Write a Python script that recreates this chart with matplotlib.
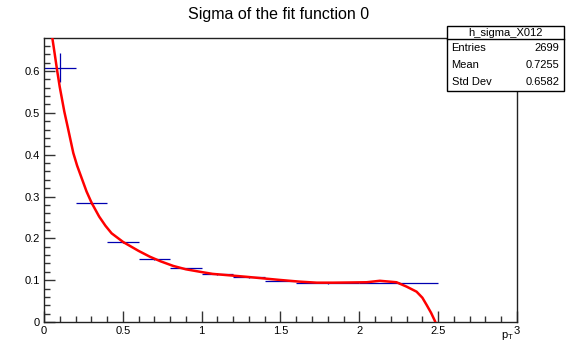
"""
Sigma of the fit function 0 -- ROOT style histogram with fit curve.
"""

import numpy as np
import matplotlib.pyplot as plt
from matplotlib.ticker import MultipleLocator

plt.rcParams["font.family"] = ["Liberation Sans", "DejaVu Sans"]

# histogram bins (variable width) and contents
bin_edges = [0.0, 0.2, 0.4, 0.6, 0.8, 1.0, 1.2, 1.4, 1.6, 2.0, 2.5]
bin_values = [0.608, 0.285, 0.191, 0.151, 0.128, 0.115, 0.108, 0.099, 0.094, 0.0925]
bin_errors = [0.034, 0.004, 0.003, 0.002, 0.002, 0.002, 0.002, 0.002, 0.002, 0.002]

# fit curve
fit_x = [0.053, 0.07, 0.084, 0.10, 0.129, 0.15, 0.186, 0.21, 0.239, 0.27,
         0.302, 0.35, 0.39, 0.429, 0.503, 0.60, 0.672, 0.74, 0.82, 0.90,
         0.99, 1.07, 1.285, 1.497, 1.62, 1.73, 1.835, 1.95, 2.046, 2.13,
         2.236, 2.30, 2.363, 2.40, 2.427, 2.455, 2.48]
fit_y = [0.679, 0.636, 0.600, 0.562, 0.503, 0.467, 0.404, 0.374, 0.344, 0.312,
         0.285, 0.252, 0.230, 0.212, 0.191, 0.170, 0.156, 0.145, 0.134, 0.126,
         0.120, 0.115, 0.108, 0.1005, 0.0965, 0.094, 0.094, 0.0945, 0.095, 0.0985,
         0.095, 0.0845, 0.0725, 0.058, 0.0407, 0.022, 0.002]

stats_name = "h_sigma_X012"
stats_rows = [("Entries", "2699"), ("Mean", "0.7255"), ("Std Dev", "0.6582")]

fig = plt.figure(figsize=(5.66, 3.46), dpi=100)
ax = fig.add_axes([0.0777, 0.0694, 0.8357, 0.8208])

edges = np.array(bin_edges)
centers = 0.5 * (edges[:-1] + edges[1:])
halfw = 0.5 * (edges[1:] - edges[:-1])
ax.errorbar(centers, bin_values, xerr=halfw, yerr=bin_errors, fmt="none",
            ecolor="#0000b0", elinewidth=0.9, capsize=0, zorder=2)
ax.plot(fit_x, fit_y, color="#ff0000", lw=1.8, zorder=3)

ax.set_xlim(0, 3)
ax.set_ylim(0, 0.679)
ax.xaxis.set_major_locator(MultipleLocator(0.5))
ax.xaxis.set_minor_locator(MultipleLocator(0.1))
ax.yaxis.set_major_locator(MultipleLocator(0.1))
ax.yaxis.set_minor_locator(MultipleLocator(0.02))
ax.set_xticks([0, 0.5, 1, 1.5, 2, 2.5, 3], ["0", "0.5", "1", "1.5", "2", "2.5", "3"])
ax.set_yticks([0, 0.1, 0.2, 0.3, 0.4, 0.5, 0.6],
              ["0", "0.1", "0.2", "0.3", "0.4", "0.5", "0.6"])
ax.tick_params(which="both", direction="in", top=False, right=False,
               labelsize=8, color="#333333", pad=3)
ax.tick_params(which="major", length=8, width=1)
ax.tick_params(which="minor", length=4, width=1)
for sp in ax.spines.values():
    sp.set_linewidth(1)
    sp.set_color("#222222")

fig.text(0.493, 0.958, "Sigma of the fit function 0", ha="center", va="center",
         fontsize=11.5)
fig.text(0.897, 0.022, r"p$_{\mathregular{T}}$", ha="center", va="baseline", fontsize=8)

# stats box
bx0, bx1 = 447 / 566, 564 / 566
by_top, by_sep, by_bot = 1 - 26 / 346, 1 - 39 / 346, 1 - 91 / 346
box = plt.Rectangle((bx0, by_bot), bx1 - bx0, by_top - by_bot, transform=fig.transFigure,
                    facecolor="white", edgecolor="black", lw=1, zorder=5)
fig.patches.append(box)
fig.add_artist(plt.Line2D([bx0, bx1], [by_sep, by_sep], transform=fig.transFigure,
                          color="black", lw=1, zorder=6))
fig.text((bx0 + bx1) / 2, (by_top + by_sep) / 2, stats_name, ha="center",
         va="center", fontsize=8, zorder=7)
row_h = (by_sep - by_bot) / 3
for i, (k, v) in enumerate(stats_rows):
    yy = by_sep - row_h * (i + 0.5)
    fig.text(bx0 + 0.008, yy, k, ha="left", va="center", fontsize=8, zorder=7)
    fig.text(bx1 - 0.008, yy, v, ha="right", va="center", fontsize=8, zorder=7)

fig.savefig("out.png", dpi=100)
